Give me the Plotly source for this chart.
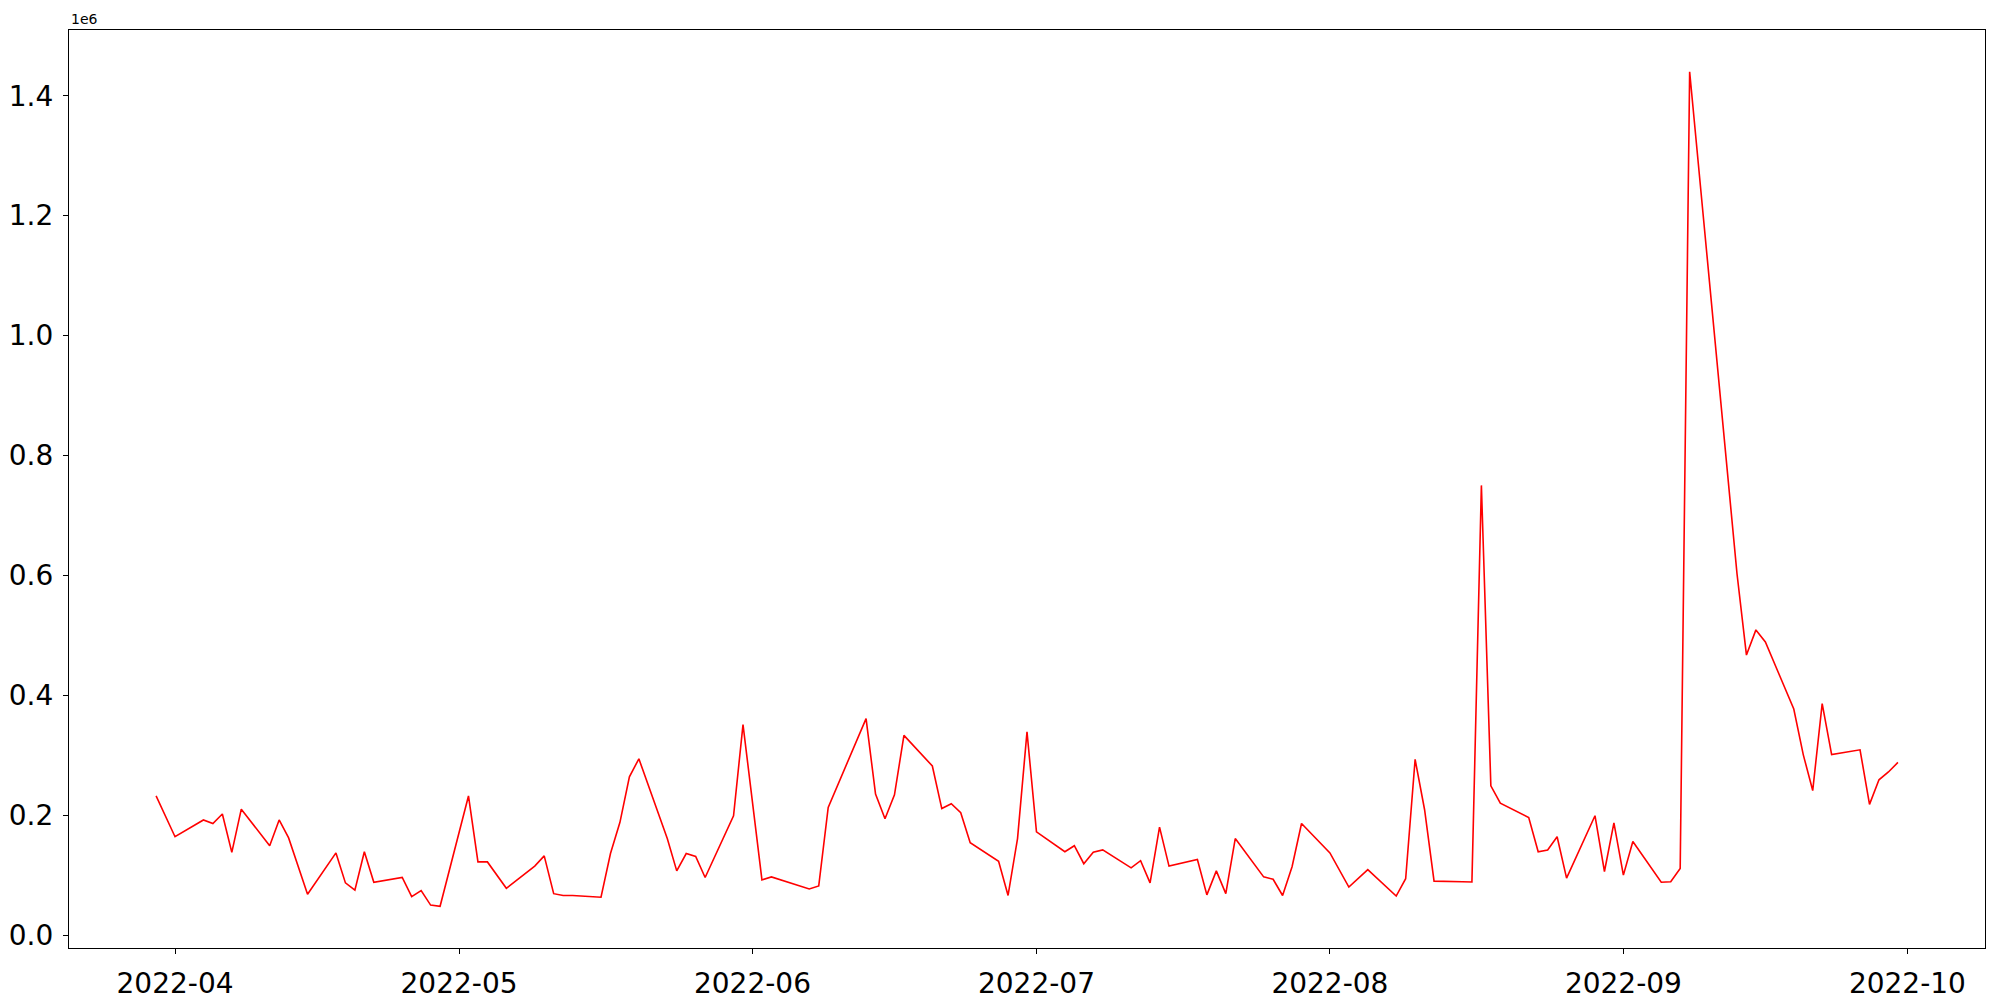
import pandas as pd
import plotly.graph_objects as go

dates = [
    "2022-03-30", "2022-03-31", "2022-04-01", "2022-04-04", "2022-04-05", "2022-04-06",
    "2022-04-07", "2022-04-08", "2022-04-11", "2022-04-12", "2022-04-13", "2022-04-15",
    "2022-04-18", "2022-04-19", "2022-04-20", "2022-04-21", "2022-04-22", "2022-04-25",
    "2022-04-26", "2022-04-27", "2022-04-28", "2022-04-29", "2022-05-02", "2022-05-03",
    "2022-05-04", "2022-05-06", "2022-05-09", "2022-05-10", "2022-05-11", "2022-05-12",
    "2022-05-13", "2022-05-16", "2022-05-17", "2022-05-18", "2022-05-19", "2022-05-20",
    "2022-05-23", "2022-05-24", "2022-05-25", "2022-05-26", "2022-05-27", "2022-05-30",
    "2022-05-31", "2022-06-02", "2022-06-03", "2022-06-07", "2022-06-08", "2022-06-09",
    "2022-06-13", "2022-06-14", "2022-06-15", "2022-06-16", "2022-06-17", "2022-06-20",
    "2022-06-21", "2022-06-22", "2022-06-23", "2022-06-24", "2022-06-27", "2022-06-28",
    "2022-06-29", "2022-06-30", "2022-07-01", "2022-07-04", "2022-07-05", "2022-07-06",
    "2022-07-07", "2022-07-08", "2022-07-11", "2022-07-12", "2022-07-13", "2022-07-14",
    "2022-07-15", "2022-07-18", "2022-07-19", "2022-07-20", "2022-07-21", "2022-07-22",
    "2022-07-25", "2022-07-26", "2022-07-27", "2022-07-28", "2022-07-29", "2022-08-01",
    "2022-08-03", "2022-08-05", "2022-08-08", "2022-08-09", "2022-08-10", "2022-08-11",
    "2022-08-12", "2022-08-15", "2022-08-16", "2022-08-17", "2022-08-18", "2022-08-19",
    "2022-08-22", "2022-08-23", "2022-08-24", "2022-08-25", "2022-08-26", "2022-08-29",
    "2022-08-30", "2022-08-31", "2022-09-01", "2022-09-02", "2022-09-05", "2022-09-06",
    "2022-09-07", "2022-09-08", "2022-09-13", "2022-09-14", "2022-09-15", "2022-09-16",
    "2022-09-19", "2022-09-20", "2022-09-21", "2022-09-22", "2022-09-23", "2022-09-26",
    "2022-09-27", "2022-09-28", "2022-09-29", "2022-09-30",
]

values = [
    232000, 199000, 164000, 192000, 186000, 202000,
    138000, 210000, 149000, 192000, 162000, 68000,
    137000, 87000, 75000, 139000, 88000, 96000,
    64000, 74000, 50000, 48000, 232000, 122000,
    122000, 78000, 115000, 132000, 69000, 66000,
    66000, 63000, 136000, 188000, 264000, 294000,
    161000, 107000, 136000, 131000, 96000, 199000,
    351000, 92000, 97000, 77000, 82000, 213000,
    361000, 235000, 194000, 234000, 333000, 282000,
    211000, 219000, 204000, 154000, 123000, 66000,
    161000, 339000, 172000, 139000, 149000, 119000,
    138000, 142000, 112000, 124000, 87000, 180000,
    115000, 126000, 67000, 107000, 69000, 161000,
    97000, 93000, 66000, 114000, 186000, 137000,
    80000, 109000, 65000, 94000, 293000, 209000,
    90000, 89000, 88500, 750000, 249000, 220000,
    196000, 139000, 142000, 164000, 95000, 199000,
    106000, 187000, 100000, 156000, 88000, 89000,
    111000, 1440000, 603000, 467000, 509000, 489000,
    377000, 301000, 241000, 386000, 301000, 309000,
    218000, 259000, 272000, 288000,
]

x_tick_dates = ["2022-04-01", "2022-05-01", "2022-06-01", "2022-07-01",
                "2022-08-01", "2022-09-01", "2022-10-01"]
x_tick_labels = ["2022-04", "2022-05", "2022-06", "2022-07", "2022-08", "2022-09", "2022-10"]
y_tick_vals = [0, 200000, 400000, 600000, 800000, 1000000, 1200000, 1400000]
y_tick_labels = ["0.0", "0.2", "0.4", "0.6", "0.8", "1.0", "1.2", "1.4"]

# matplotlib-like 5% margins
dts = pd.to_datetime(dates)
span = dts.max() - dts.min()
x_range = [dts.min() - 0.05 * span, dts.max() + 0.05 * span]
vmin, vmax = min(values), max(values)
vspan = vmax - vmin
y_range = [vmin - 0.05 * vspan, vmax + 0.05 * vspan]

fig = go.Figure()
fig.add_trace(go.Scatter(
    x=dates, y=values, mode="lines",
    line=dict(color="red", width=1.6),
    showlegend=False,
))

font = "DejaVu Sans"
axis_common = dict(
    showgrid=False, zeroline=False, showline=True, linecolor="black", linewidth=1.2,
    mirror=True, ticks="outside", ticklen=5, tickwidth=1.2, tickcolor="black",
    tickfont=dict(family=font, size=28, color="black"),
)

fig.update_xaxes(
    range=x_range, tickvals=x_tick_dates, ticktext=x_tick_labels,
    ticklabelstandoff=5, **axis_common,
)
fig.update_yaxes(
    range=y_range, tickvals=y_tick_vals, ticktext=y_tick_labels,
    ticklabelstandoff=4, **axis_common,
)

fig.add_annotation(
    text="1e6", xref="paper", yref="paper", x=0, y=1,
    xanchor="left", yanchor="bottom", showarrow=False, yshift=1,
    font=dict(family=font, size=14, color="black"),
)

fig.update_layout(
    width=2000, height=1000,
    margin=dict(l=69, r=15, t=30, b=52, autoexpand=False),
    paper_bgcolor="white", plot_bgcolor="white",
    font=dict(family=font, color="black"),
)

fig.write_html(
    "out.html",
    config={"displayModeBar": False},
    post_script="document.body.style.margin='0';document.body.style.overflow='hidden';",
)
